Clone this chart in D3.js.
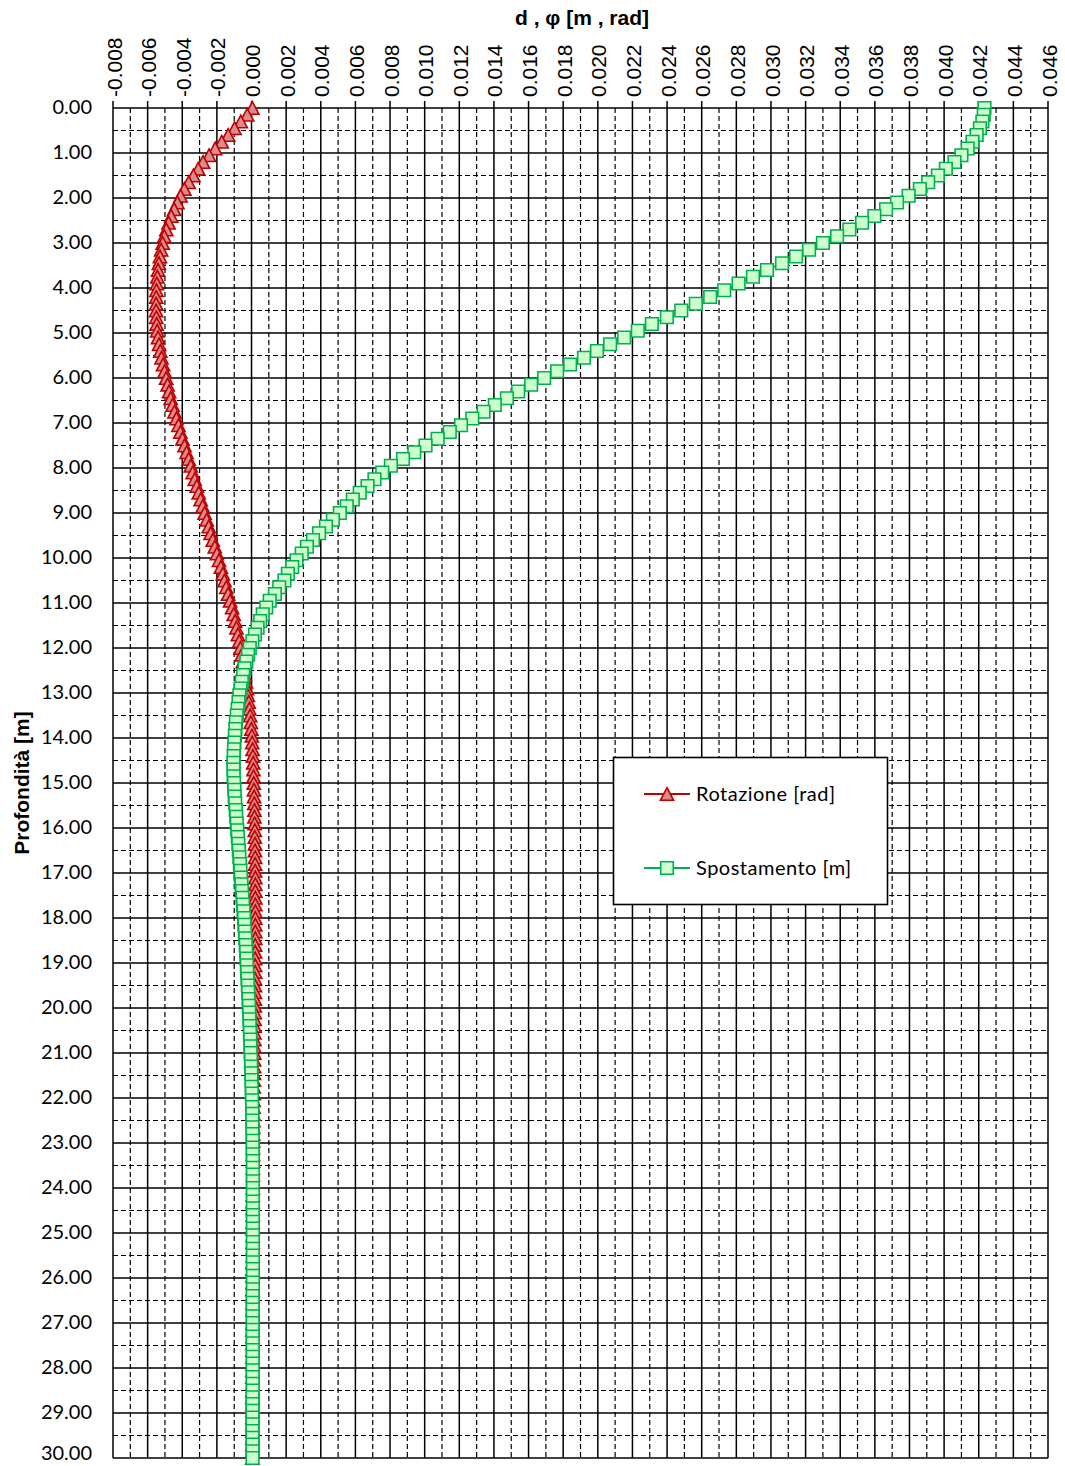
<!DOCTYPE html>
<html>
<head>
<meta charset="utf-8">
<script src="https://cdn.jsdelivr.net/npm/d3@7"></script>
<style>
  body { margin: 0; background: #fff; }
  .tickLabel { font-family: "Liberation Sans", Arial, sans-serif; font-size: 21px; fill: #000; }
  .depthLabel { font-family: Lato, "Open Sans", sans-serif; font-size: 20px; fill: #000; }
  .axisTitle { font-family: "Liberation Sans", Arial, sans-serif; font-size: 21px; font-weight: bold; fill: #000; }
  .legendText { font-family: Lato, "Open Sans", sans-serif; font-size: 20px; letter-spacing: 0.5px; fill: #000; }
</style>
</head>
<body>
<div id="chart"></div>
<script>
// depth of the nodes along the pile [m]
var depthStep = 0.15;
var depths = d3.range(0, 201).map(i => +(i * depthStep).toFixed(2));

// Rotazione, in 1e-3 rad (one row = 10 nodes = 1.5 m)
var rotazioneMrad = [
  0.05, -0.25, -0.62, -0.98, -1.35, -1.72, -2.10, -2.45, -2.80, -3.08,
  -3.36, -3.63, -3.88, -4.10, -4.28, -4.47, -4.64, -4.79, -4.92, -5.04,
  -5.13, -5.22, -5.29, -5.35, -5.40, -5.44, -5.47, -5.49, -5.50, -5.51,
  -5.51, -5.50, -5.48, -5.45, -5.40, -5.34, -5.27, -5.20, -5.11, -5.02,
  -4.93, -4.85, -4.76, -4.67, -4.56, -4.45, -4.34, -4.22, -4.11, -3.99,
  -3.87, -3.75, -3.63, -3.51, -3.40, -3.28, -3.16, -3.05, -2.94, -2.82,
  -2.71, -2.59, -2.47, -2.36, -2.24, -2.12, -2.00, -1.88, -1.77, -1.66,
  -1.56, -1.46, -1.35, -1.24, -1.12, -1.03, -0.95, -0.87, -0.79, -0.71,
  -0.64, -0.57, -0.50, -0.44, -0.38, -0.32, -0.26, -0.21, -0.16, -0.12,
  -0.08, -0.04, -0.01, 0.02, 0.04, 0.06, 0.08, 0.10, 0.11, 0.12,
  0.13, 0.14, 0.15, 0.16, 0.17, 0.17, 0.18, 0.19, 0.19, 0.20,
  0.20, 0.21, 0.21, 0.21, 0.22, 0.22, 0.22, 0.22, 0.22, 0.22,
  0.22, 0.22, 0.22, 0.22, 0.21, 0.21, 0.21, 0.21, 0.21, 0.20,
  0.20, 0.20, 0.19, 0.19, 0.19, 0.18, 0.18, 0.17, 0.17, 0.16,
  0.16, 0.15, 0.15, 0.14, 0.14, 0.13, 0.13, 0.12, 0.12, 0.11,
  0.11, 0.10, 0.10, 0.10, 0.09, 0.09, 0.09, 0.08, 0.08, 0.08,
  0.08, 0.07, 0.07, 0.07, 0.07, 0.07, 0.07, 0.07, 0.07, 0.07,
  0.07, 0.06, 0.06, 0.06, 0.06, 0.06, 0.06, 0.06, 0.06, 0.06,
  0.06, 0.06, 0.06, 0.06, 0.06, 0.06, 0.06, 0.05, 0.05, 0.05,
  0.05, 0.05, 0.05, 0.05, 0.05, 0.05, 0.05, 0.05, 0.05, 0.05,
  0.05
];

// Spostamento, in mm
var spostamentoMm = [
  42.33, 42.29, 42.21, 42.07, 41.88, 41.64, 41.36, 41.00, 40.60, 40.10,
  39.64, 39.08, 38.60, 37.95, 37.28, 36.65, 35.97, 35.26, 34.53, 33.82,
  33.00, 32.20, 31.45, 30.64, 29.77, 28.96, 28.13, 27.30, 26.49, 25.66,
  24.82, 23.99, 23.12, 22.31, 21.52, 20.71, 19.95, 19.20, 18.40, 17.65,
  16.90, 16.15, 15.40, 14.75, 14.05, 13.40, 12.75, 12.10, 11.45, 10.75,
  10.05, 9.40, 8.75, 8.05, 7.55, 7.10, 6.70, 6.25, 5.85, 5.50,
  5.10, 4.70, 4.30, 3.90, 3.55, 3.20, 2.90, 2.60, 2.35, 2.10,
  1.90, 1.60, 1.35, 1.05, 0.85, 0.65, 0.50, 0.35, 0.20, 0.05,
  -0.10, -0.20, -0.30, -0.40, -0.48, -0.56, -0.63, -0.70, -0.75, -0.80,
  -0.85, -0.90, -0.93, -0.96, -0.99, -1.01, -1.03, -1.04, -1.04, -1.03,
  -1.01, -0.99, -0.97, -0.94, -0.91, -0.88, -0.85, -0.82, -0.79, -0.76,
  -0.73, -0.70, -0.67, -0.64, -0.61, -0.58, -0.55, -0.52, -0.49, -0.46,
  -0.43, -0.41, -0.38, -0.36, -0.33, -0.31, -0.29, -0.27, -0.25, -0.23,
  -0.21, -0.19, -0.17, -0.15, -0.13, -0.12, -0.10, -0.09, -0.07, -0.06,
  -0.05, -0.03, -0.02, -0.01, 0.00, 0.01, 0.02, 0.03, 0.04, 0.05,
  0.05, 0.06, 0.06, 0.07, 0.07, 0.07, 0.08, 0.08, 0.08, 0.08,
  0.08, 0.08, 0.08, 0.08, 0.08, 0.08, 0.08, 0.08, 0.08, 0.08,
  0.08, 0.08, 0.08, 0.08, 0.08, 0.08, 0.07, 0.07, 0.07, 0.07,
  0.07, 0.07, 0.07, 0.07, 0.07, 0.07, 0.07, 0.07, 0.07, 0.07,
  0.07, 0.06, 0.06, 0.06, 0.06, 0.06, 0.06, 0.06, 0.06, 0.06,
  0.06
];

// axis ticks
var xMajorTicks = d3.range(-8, 47, 2).map(v => v / 1000);   // -0.008 ... 0.046
var xMinorTicks = d3.range(-7, 46, 2).map(v => v / 1000);
var yMajorTicks = d3.range(0, 31, 1);                        // 0 ... 30 m
var yMinorTicks = d3.range(0.5, 30, 1);

var xTitle = "d , \u03c6 [m , rad]";
var yTitle = "Profondit\u00e0 [m]";
var legendLabels = ["Rotazione [rad]", "Spostamento [m]"];

// Svg size
var svgWidth = 1065;
var svgHeight = 1466;

var margin = { top: 108, right: 17, bottom: 8, left: 113 };
var width = svgWidth - margin.left - margin.right;
var height = svgHeight - margin.top - margin.bottom;

var svg = d3.select("#chart")
  .append("svg")
  .attr("width", svgWidth)
  .attr("height", svgHeight);

var chartGroup = svg.append("g")
  .attr("transform", `translate(${margin.left}, ${margin.top})`);

var xScale = d3.scaleLinear().domain([-0.008, 0.046]).range([0, width]);
var yScale = d3.scaleLinear().domain([0, 30]).range([0, height]);

var fmtX = v => d3.format(".3f")(v).replace("\u2212", "-");
var fmtY = d3.format(".2f");

// grid: dashed minors first, then solid majors
var grid = chartGroup.append("g");
grid.selectAll(".vMinor").data(xMinorTicks).enter().append("line")
  .attr("x1", d => xScale(d)).attr("x2", d => xScale(d))
  .attr("y1", 0).attr("y2", height)
  .attr("stroke", "#000").attr("stroke-width", 1.2).attr("stroke-dasharray", "5,3");
grid.selectAll(".hMinor").data(yMinorTicks).enter().append("line")
  .attr("y1", d => yScale(d)).attr("y2", d => yScale(d))
  .attr("x1", 0).attr("x2", width)
  .attr("stroke", "#000").attr("stroke-width", 1.2).attr("stroke-dasharray", "5,3");
grid.selectAll(".vMajor").data(xMajorTicks).enter().append("line")
  .attr("x1", d => xScale(d)).attr("x2", d => xScale(d))
  .attr("y1", -7).attr("y2", height)
  .attr("stroke", "#000").attr("stroke-width", 1.5);
grid.selectAll(".hMajor").data(yMajorTicks).enter().append("line")
  .attr("y1", d => yScale(d)).attr("y2", d => yScale(d))
  .attr("x1", 0).attr("x2", width)
  .attr("stroke", "#000").attr("stroke-width", 1.5);

// top tick labels, rotated
chartGroup.selectAll(".xLab").data(xMajorTicks).enter().append("text")
  .attr("class", "tickLabel")
  .attr("transform", d => `translate(${xScale(d) + 1}, -11) rotate(-90)`)
  .attr("text-anchor", "start")
  .attr("dy", "0.36em")
  .text(d => fmtX(d));

// depth labels (last one nudged up so it stays inside the page)
chartGroup.selectAll(".yLab").data(yMajorTicks).enter().append("text")
  .attr("class", "depthLabel")
  .attr("x", -21)
  .attr("y", d => Math.min(yScale(d), height - 4))
  .attr("dy", "0.3em")
  .attr("text-anchor", "end")
  .text(d => fmtY(d));

// axis titles
svg.append("text").attr("class", "axisTitle")
  .attr("x", 582).attr("y", 25)
  .attr("text-anchor", "middle")
  .text(xTitle);
svg.append("text").attr("class", "axisTitle")
  .attr("transform", "translate(29, 783) rotate(-90)")
  .attr("text-anchor", "middle")
  .text(yTitle);

// markers
var triPath = "M0,-6.3L6.6,6.3L-6.6,6.3Z";
var sqPath = "M-6.3,-6.3H6.3V6.3H-6.3Z";

var series = [
  { name: legendLabels[0], values: rotazioneMrad, stroke: "#c00000", fill: "#db8b8b", shape: triPath },
  { name: legendLabels[1], values: spostamentoMm, stroke: "#00b050", fill: "#ccffcc", shape: sqPath }
];

var lineGen = d3.line()
  .x(d => xScale(d.v))
  .y(d => yScale(d.z));

series.forEach(function(s) {
  var pts = depths.map((z, i) => ({ z: z, v: s.values[i] / 1000 }));
  var g = chartGroup.append("g");
  g.append("path")
    .datum(pts)
    .attr("d", lineGen)
    .attr("fill", "none")
    .attr("stroke", s.stroke)
    .attr("stroke-width", 1.8);
  g.selectAll("path.mk").data(pts).enter().append("path")
    .attr("class", "mk")
    .attr("d", s.shape)
    .attr("transform", d => `translate(${xScale(d.v)}, ${yScale(d.z)})`)
    .attr("fill", s.fill)
    .attr("stroke", s.stroke)
    .attr("stroke-width", 1.6);
});

// legend
var legend = svg.append("g");
legend.append("rect")
  .attr("x", 613.5).attr("y", 757.5)
  .attr("width", 274).attr("height", 147)
  .attr("fill", "#fff").attr("stroke", "#000").attr("stroke-width", 1.6);

series.forEach(function(s, i) {
  var ly = 794 + i * 74;
  legend.append("line")
    .attr("x1", 644).attr("x2", 690).attr("y1", ly).attr("y2", ly)
    .attr("stroke", s.stroke).attr("stroke-width", 1.8);
  legend.append("path")
    .attr("d", s.shape)
    .attr("transform", `translate(667, ${ly})`)
    .attr("fill", s.fill).attr("stroke", s.stroke).attr("stroke-width", 1.6);
  legend.append("text")
    .attr("class", "legendText")
    .attr("x", 696).attr("y", ly)
    .attr("dy", "0.35em")
    .text(s.name);
});
</script>
</body>
</html>
